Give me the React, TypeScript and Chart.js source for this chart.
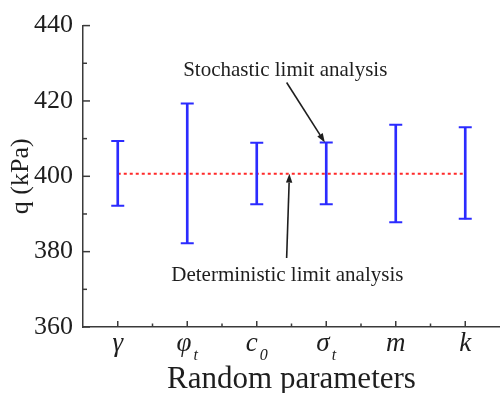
import React, { useEffect, useRef } from 'react';
import { Chart, registerables } from 'chart.js';

Chart.register(...registerables);

const categories = ['γ', 'φ', 'c', 'σ', 'm', 'k'];
const subscripts = ['', 't', '0', 't', '', ''];
const upperValues = [409.4, 419.3, 408.9, 409.0, 413.7, 413.0];
const lowerValues = [392.2, 382.2, 392.6, 392.6, 387.8, 388.7];
const deterministicValue = 400.7;
const yMin = 360;
const yMax = 440;
const yStep = 20;
const stochasticText = 'Stochastic limit analysis';
const deterministicText = 'Deterministic limit analysis';

const SERIF = '"Liberation Serif", "Times New Roman", serif';
const BLUE = '#2b2bff';
const RED = '#ff2a2a';
const AXIS = '#3a3a3a';
const TEXT = '#1e1e1e';

function arrow(ctx: CanvasRenderingContext2D, x1: number, y1: number, x2: number, y2: number) {
  const ang = Math.atan2(y2 - y1, x2 - x1);
  const head = 9;
  const half = 3.2;
  const bx = x2 - head * Math.cos(ang);
  const by = y2 - head * Math.sin(ang);
  ctx.save();
  ctx.strokeStyle = TEXT;
  ctx.fillStyle = TEXT;
  ctx.lineWidth = 1.6;
  ctx.beginPath();
  ctx.moveTo(x1, y1);
  ctx.lineTo(bx, by);
  ctx.stroke();
  ctx.beginPath();
  ctx.moveTo(x2, y2);
  ctx.lineTo(bx + half * Math.sin(ang), by - half * Math.cos(ang));
  ctx.lineTo(bx - half * Math.sin(ang), by + half * Math.cos(ang));
  ctx.closePath();
  ctx.fill();
  ctx.restore();
}

const decorPlugin = {
  id: 'decor',
  afterDraw(chart: any) {
    const { ctx, chartArea } = chart;
    const xs = chart.scales.x;
    const ys = chart.scales.y;
    ctx.save();
    ctx.strokeStyle = AXIS;
    ctx.lineWidth = 1.5;
    // inward y ticks (major + minor)
    for (let v = yMin; v <= yMax; v += yStep / 2) {
      const y = ys.getPixelForValue(v);
      const len = (v - yMin) % yStep === 0 ? 7 : 4;
      ctx.beginPath();
      ctx.moveTo(chartArea.left, y);
      ctx.lineTo(chartArea.left + len, y);
      ctx.stroke();
    }
    // inward x ticks (major + minor)
    for (let i = 0; i < categories.length; i++) {
      const x = xs.getPixelForValue(i);
      ctx.beginPath();
      ctx.moveTo(x, chartArea.bottom);
      ctx.lineTo(x, chartArea.bottom - 6);
      ctx.stroke();
      if (i < categories.length - 1) {
        const xm = (x + xs.getPixelForValue(i + 1)) / 2;
        ctx.beginPath();
        ctx.moveTo(xm, chartArea.bottom);
        ctx.lineTo(xm, chartArea.bottom - 3.5);
        ctx.stroke();
      }
    }
    // x tick labels with subscripts
    ctx.fillStyle = TEXT;
    ctx.textBaseline = 'alphabetic';
    for (let i = 0; i < categories.length; i++) {
      const x = xs.getPixelForValue(i);
      ctx.font = `italic 27px ${SERIF}`;
      const w = ctx.measureText(categories[i]).width;
      ctx.font = `italic 16px ${SERIF}`;
      const gap = subscripts[i] ? 2 : 0;
      const ws = subscripts[i] ? ctx.measureText(subscripts[i]).width : 0;
      const total = w + gap + ws;
      const startX = x - total / 2;
      ctx.font = `italic 27px ${SERIF}`;
      ctx.textAlign = 'left';
      ctx.fillText(categories[i], startX, chartArea.bottom + 24);
      if (subscripts[i]) {
        ctx.font = `italic 16px ${SERIF}`;
        ctx.fillText(subscripts[i], startX + w + gap, chartArea.bottom + 33);
      }
    }
    // annotations
    ctx.font = `21px ${SERIF}`;
    ctx.textAlign = 'center';
    ctx.textBaseline = 'middle';
    ctx.fillText(stochasticText, xs.getPixelForValue(2.41), ys.getPixelForValue(428.2));
    ctx.fillText(deterministicText, xs.getPixelForValue(2.44), ys.getPixelForValue(373.6));
    arrow(ctx, xs.getPixelForValue(2.43), ys.getPixelForValue(424.9), xs.getPixelForValue(2.98), ys.getPixelForValue(upperValues[3]));
    arrow(ctx, xs.getPixelForValue(2.43), ys.getPixelForValue(378.3), xs.getPixelForValue(2.47), ys.getPixelForValue(deterministicValue));
    ctx.restore();
  },
};

export default function App() {
  const ref = useRef<HTMLCanvasElement | null>(null);
  useEffect(() => {
    document.body.style.margin = '0';
    const canvas = ref.current;
    if (!canvas) return;
    const chart = new Chart(canvas, {
      type: 'bar',
      data: {
        labels: categories,
        datasets: [
          {
            type: 'bar',
            label: 'range',
            data: lowerValues.map((l, i) => [l, upperValues[i]]) as any,
            backgroundColor: BLUE,
            borderWidth: 0,
            barThickness: 2,
            order: 2,
          },
          {
            type: 'line',
            label: 'upper',
            data: upperValues,
            showLine: false,
            pointStyle: 'line',
            pointRadius: 6.5,
            pointBorderWidth: 2,
            pointBorderColor: BLUE,
            borderColor: BLUE,
            order: 1,
          },
          {
            type: 'line',
            label: 'lower',
            data: lowerValues,
            showLine: false,
            pointStyle: 'line',
            pointRadius: 6.5,
            pointBorderWidth: 2,
            pointBorderColor: BLUE,
            borderColor: BLUE,
            order: 1,
          },
          {
            type: 'line',
            label: 'deterministic',
            data: categories.map(() => deterministicValue),
            borderColor: RED,
            borderWidth: 2,
            borderDash: [3, 3],
            pointRadius: 0,
            order: 10,
          },
        ],
      },
      options: {
        responsive: false,
        animation: false,
        events: [],
        layout: { autoPadding: false, padding: { top: 20, right: 0, left: 0, bottom: 0 } },
        plugins: { legend: { display: false }, tooltip: { enabled: false } },
        scales: {
          x: {
            type: 'category',
            offset: true,
            grid: { display: false, drawTicks: false },
            border: { display: true, color: AXIS, width: 1.5 },
            ticks: { display: false },
            title: {
              display: true,
              text: 'Random parameters',
              color: TEXT,
              font: { family: SERIF, size: 31, lineHeight: 1 },
              padding: { top: 0, bottom: -2 },
            },
            afterFit: (s: any) => { s.height = 66; },
          },
          y: {
            min: yMin,
            max: yMax,
            grid: { display: false, drawTicks: false },
            border: { display: true, color: AXIS, width: 1.5 },
            ticks: {
              stepSize: yStep,
              color: TEXT,
              padding: 10,
              font: { family: SERIF, size: 26 },
            },
            title: {
              display: true,
              text: 'q (kPa)',
              color: TEXT,
              font: { family: SERIF, size: 26, lineHeight: 1 },
              padding: { top: 8, bottom: 0 },
            },
            afterFit: (s: any) => { s.width = 83; },
          },
        },
      },
      plugins: [decorPlugin],
    });
    return () => chart.destroy();
  }, []);
  return (
    <div style={{ position: 'relative', width: 500, height: 393, background: '#fff' }}>
      <canvas ref={ref} width={500} height={393} />
    </div>
  );
}
